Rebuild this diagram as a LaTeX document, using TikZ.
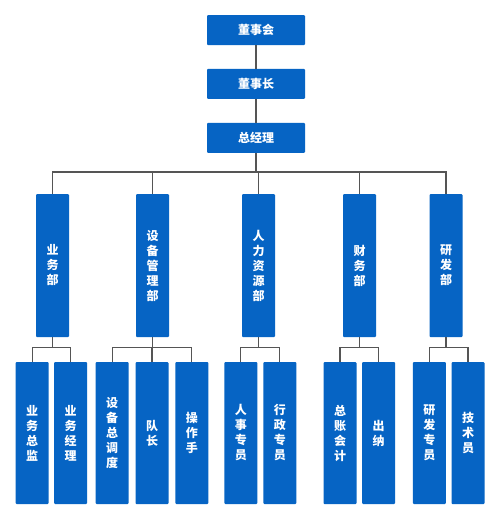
\documentclass[tikz,border=0pt]{standalone}
\usepackage{fontspec}
\newfontfamily\cjk{Noto Sans CJK SC}
\usetikzlibrary{positioning}
\definecolor{orgblue}{RGB}{6,100,196}
\definecolor{orgline}{RGB}{85,85,85}

\begin{document}
\begin{tikzpicture}[x=1pt,y=-1pt,node distance=23.5pt,
                    every node/.style={font=\cjk\bfseries\fontsize{12}{15}\selectfont,text=white},
                    top node/.style={rectangle,fill=orgblue,rounded corners=1pt,minimum width=98pt,minimum height=30pt,inner sep=0pt},
                    dept node/.style={rectangle,fill=orgblue,rounded corners=1pt,minimum width=33pt,minimum height=143pt,inner sep=0pt,align=center},
                    sub node/.style={dept node,minimum height=142pt},
                    link/.style={draw=orgline,line width=1.3pt}]
\useasboundingbox[fill=white] (0,0) rectangle (500,520);

\node[top node] (board) at (256,30) {董事会};
\node[top node] (chair) [below=of board] {董事长};
\node[top node] (gm) [below=of chair] {总经理};

% departments
\node[dept node] (d1) at (52.5,265.5) {业\\务\\部};
\node[dept node] (d2) at (152.5,265.5) {设\\备\\管\\理\\部};
\node[dept node] (d3) at (258.5,265.5) {人\\力\\资\\源\\部};
\node[dept node] (d4) at (359.5,265.5) {财\\务\\部};
\node[dept node] (d5) at (446,265.5) {研\\发\\部};

% staff
\node[sub node] (s1) at (32.2,433) {业\\务\\总\\监};
\node[sub node] (s2) at (70.7,433) {业\\务\\经\\理};
\node[sub node] (s3) at (112.2,433) {设\\备\\总\\调\\度};
\node[sub node] (s4) at (152,433) {队\\长};
\node[sub node] (s5) at (191.8,433) {操\\作\\手};
\node[sub node] (s6) at (240.8,433) {人\\事\\专\\员};
\node[sub node] (s7) at (279.8,433) {行\\政\\专\\员};
\node[sub node] (s8) at (340,433) {总\\账\\会\\计};
\node[sub node] (s9) at (378.7,433) {出\\纳};
\node[sub node] (s10) at (429.3,433) {研\\发\\专\\员};
\node[sub node] (s11) at (468,433) {技\\术\\员};

\draw[link] (board) -- (chair);
\draw[link] (chair) -- (gm);
\foreach \d in {d1,d2,d3,d4,d5}
  \draw[link] (gm.south) -- ++(0,19) -| (\d.north);
\foreach \d/\s in {d1/s1,d1/s2,d2/s3,d2/s4,d2/s5,d3/s6,d3/s7,d4/s8,d4/s9,d5/s10,d5/s11}
  \draw[link] (\d.south) -- ++(0,10) -| (\s.north);
\end{tikzpicture}
\end{document}
